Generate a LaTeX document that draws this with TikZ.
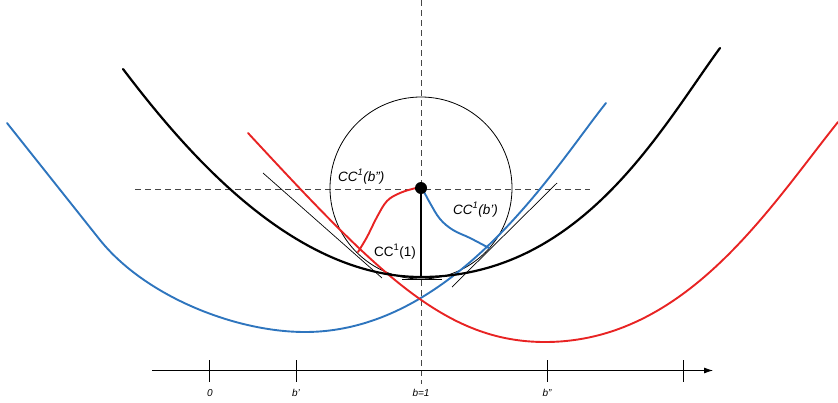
\documentclass[tikz,border=0pt]{standalone}
\usepackage{fontspec}
\setmainfont{Liberation Sans}
\usetikzlibrary{arrows.meta}
\definecolor{myblue}{RGB}{46,117,190}
\definecolor{myred}{RGB}{232,35,35}
\definecolor{dashgray}{RGB}{70,70,70}
\begin{document}
\begin{tikzpicture}[x=1pt,y=-1pt,
  thickcurve/.style={line width=2.2pt, line join=round, line cap=round},
  colcurve/.style={line width=1.9pt, line join=round, line cap=round},
  thinline/.style={line width=0.7pt},
  guide/.style={line width=0.9pt, dashgray, dash pattern=on 6pt off 4pt},
  cclabel/.style={anchor=base west, inner sep=0pt, font=\fontsize{13.5}{15}\selectfont},
  axlabel/.style={inner sep=0pt, font=\fontsize{10}{12}\selectfont\itshape},
  tick/.style={line width=0.8pt}]
\useasboundingbox (0,0) rectangle (838,402);

% guide lines
\coordinate (vtop) at (421,0);
\coordinate (vbot) at (421,384);
\coordinate (hl) at (135,189);
\coordinate (hr) at (590,189);
\draw[guide] (vtop) -- (vbot);
\draw[guide] (hl) -- (hr);

% circle
\coordinate (ctr) at (421,188);
\draw[line width=0.8pt] (ctr) circle[radius=91pt];

% tangent lines
\coordinate (tl1) at (263,173); \coordinate (tl2) at (382,278);
\coordinate (tr1) at (557,183); \coordinate (tr2) at (452,287);
\coordinate (tb1) at (402,279.5); \coordinate (tb2) at (442,279.5);
\draw[thinline] (tl1) -- (tl2);
\draw[thinline] (tr1) -- (tr2);
\draw[thinline, line width=0.9pt] (tb1) -- (tb2);

% blue curve
\coordinate (bA) at (7,123);
\coordinate (bB) at (100,240);
\coordinate (bM) at (305,332);
\coordinate (bE) at (606,103);
\draw[colcurve, myblue] (bA) -- (bB) .. controls (145,296) and (235,332) .. (bM)
  .. controls (455,332) and (556,165.5) .. (bE);

% red curve
\coordinate (rA) at (248,133);
\coordinate (rM) at (545,342);
\coordinate (rE) at (838,122);
\draw[colcurve, myred] (rA) .. controls (378,273.4) and (445,342) .. (rM)
  .. controls (685,342) and (768,209.5) .. (rE);

% black curve
\coordinate (kA) at (123,69);
\coordinate (kM) at (421,277);
\coordinate (kE) at (720,48);
\draw[thickcurve] (kA) .. controls (183,148) and (291,277) .. (kM)
  .. controls (581,277) and (660,130) .. (kE);

% inner curves
\draw[colcurve, myred] plot[smooth, tension=0.6] coordinates {
 (421,188) (416,188) (400,193) (387,201) (377,217) (367,237) (358,252)};
\draw[colcurve, myblue] plot[smooth, tension=0.6] coordinates {
 (421,188) (423,190) (430,203) (440,219) (453,230) (470,238) (489,248)};

% vertical radius
\coordinate (bot) at (421,278);
\draw[line width=2.5pt] (ctr) -- (bot);
\node[circle, fill=black, inner sep=0pt, minimum size=12pt] (c) at (ctr) {};

% labels
\node[cclabel] (l1) at (338,181) {\itshape CC\textsuperscript{1}(b”)};
\node[cclabel] (l2) at (453,214) {\itshape CC\textsuperscript{1}(b’)};
\node[cclabel] (l3) at (374,256) {CC\textsuperscript{1}(1)};

% axis
\coordinate (a0) at (152,370.5);
\coordinate (a1) at (713,370.5);
\draw[line width=0.8pt, -{Latex[length=9pt,width=6pt]}] (a0) -- (a1);
\foreach \x/\n in {209/k0,296/k1,547/k3,683/k4}{
  \coordinate (\n t) at (\x,360); \coordinate (\n b) at (\x,382);
  \draw[tick] (\n t) -- (\n b);}
\node[axlabel] (t0) at (210,393) {0};
\node[axlabel] (t1) at (296,393) {b’};
\node[axlabel] (t2) at (421,393) {b=1};
\node[axlabel] (t3) at (547,393) {b”};
\end{tikzpicture}
\end{document}
